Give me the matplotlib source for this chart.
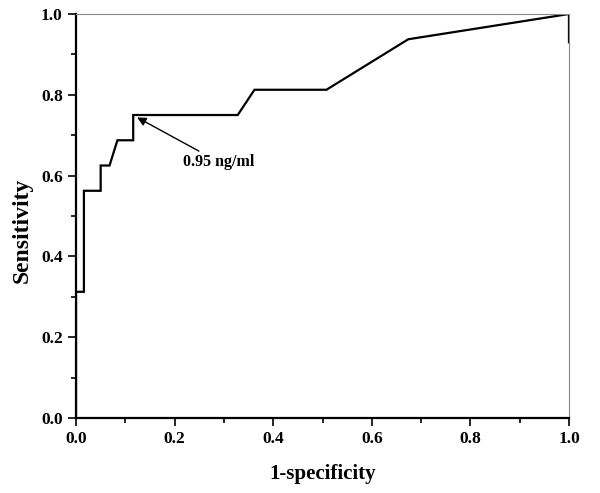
import matplotlib
matplotlib.use('Agg')
import matplotlib.pyplot as plt
from matplotlib.ticker import MultipleLocator, FormatStrFormatter

# ROC curve points
fpr = [0.0, 0.0, 0.016, 0.016, 0.05, 0.05, 0.068, 0.084, 0.116, 0.116,
       0.328, 0.362, 0.508, 0.674, 1.0, 1.0]
tpr = [0.0, 0.3125, 0.3125, 0.5625, 0.5625, 0.625, 0.625, 0.6875, 0.6875, 0.75,
       0.75, 0.8125, 0.8125, 0.9375, 1.0, 0.93]

cutoff_label = '0.95 ng/ml'
cutoff_point = (0.124, 0.744)
label_pos = (0.217, 0.634)

plt.rcParams['font.family'] = ['Liberation Serif', 'DejaVu Serif']
plt.rcParams['font.weight'] = 'bold'

fig = plt.figure(figsize=(6, 4.93), dpi=100)
ax = fig.add_axes([0.1267, 0.152, 0.8216, 0.8196])

ax.plot(fpr, tpr, color='black', lw=1.6, solid_joinstyle='miter')

ax.annotate(cutoff_label, xy=cutoff_point, xytext=label_pos,
            fontsize=11.5, fontweight='bold', va='center', ha='left',
            arrowprops=dict(arrowstyle='-|>', color='black', lw=1.0,
                            mutation_scale=13, shrinkA=0, shrinkB=0))

ax.set_xlim(0, 1)
ax.set_ylim(0, 1)
ax.xaxis.set_major_locator(MultipleLocator(0.2))
ax.xaxis.set_minor_locator(MultipleLocator(0.1))
ax.yaxis.set_major_locator(MultipleLocator(0.2))
ax.yaxis.set_minor_locator(MultipleLocator(0.1))
ax.xaxis.set_major_formatter(FormatStrFormatter('%.1f'))
ax.yaxis.set_major_formatter(FormatStrFormatter('%.1f'))
ax.tick_params(which='both', direction='out', width=1.2, top=False, right=False)
ax.tick_params(which='major', length=5.5, labelsize=12.5, pad=4)
ax.tick_params(which='minor', length=3.5)

for side in ['left', 'bottom']:
    ax.spines[side].set_linewidth(1.6)
for side in ['top', 'right']:
    ax.spines[side].set_linewidth(0.8)
    ax.spines[side].set_color('#888888')

ax.set_xlabel('1-specificity', fontsize=15, fontweight='bold', labelpad=12)
ax.set_ylabel('Sensitivity', fontsize=17, fontweight='bold')
ax.yaxis.set_label_coords(-0.088, 0.464)

fig.savefig('out.png', dpi=100)
